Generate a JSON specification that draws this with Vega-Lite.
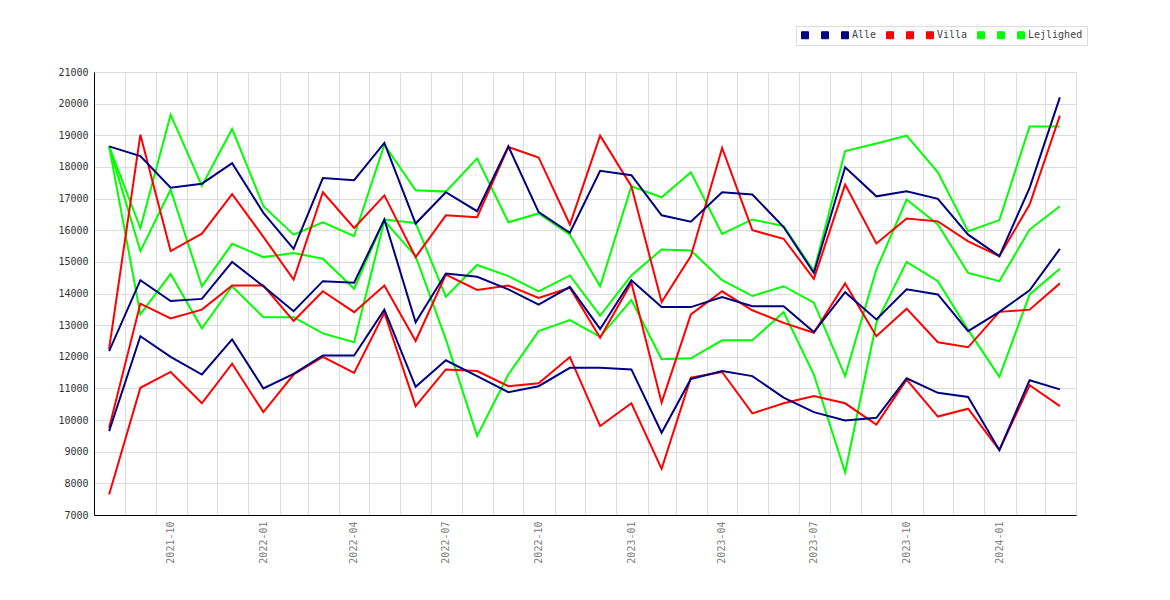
{
  "$schema": "https://vega.github.io/schema/vega-lite/v6.json",
  "width": 982,
  "height": 443,
  "autosize": {"type": "none"},
  "padding": {"left": 94, "top": 72, "right": 94, "bottom": 85},
  "background": "white",
  "view": {"stroke": null},
  "data": {
    "values": [
      {"m": "2021-08-16", "s": "Lejlighed_1", "v": 18650}, {"m": "2021-09-16", "s": "Lejlighed_1", "v": 13340}, {"m": "2021-10-16", "s": "Lejlighed_1", "v": 14620}, {"m": "2021-11-16", "s": "Lejlighed_1", "v": 12900},
      {"m": "2021-12-16", "s": "Lejlighed_1", "v": 14230}, {"m": "2022-01-16", "s": "Lejlighed_1", "v": 13250}, {"m": "2022-02-15", "s": "Lejlighed_1", "v": 13250}, {"m": "2022-03-16", "s": "Lejlighed_1", "v": 12740},
      {"m": "2022-04-16", "s": "Lejlighed_1", "v": 12460}, {"m": "2022-05-16", "s": "Lejlighed_1", "v": 16300}, {"m": "2022-06-16", "s": "Lejlighed_1", "v": 15180}, {"m": "2022-07-16", "s": "Lejlighed_1", "v": 12550},
      {"m": "2022-08-16", "s": "Lejlighed_1", "v": 9500}, {"m": "2022-09-16", "s": "Lejlighed_1", "v": 11440}, {"m": "2022-10-16", "s": "Lejlighed_1", "v": 12810}, {"m": "2022-11-16", "s": "Lejlighed_1", "v": 13160},
      {"m": "2022-12-16", "s": "Lejlighed_1", "v": 12630}, {"m": "2023-01-16", "s": "Lejlighed_1", "v": 13790}, {"m": "2023-02-15", "s": "Lejlighed_1", "v": 11920}, {"m": "2023-03-16", "s": "Lejlighed_1", "v": 11950},
      {"m": "2023-04-16", "s": "Lejlighed_1", "v": 12520}, {"m": "2023-05-16", "s": "Lejlighed_1", "v": 12520}, {"m": "2023-06-16", "s": "Lejlighed_1", "v": 13410}, {"m": "2023-07-16", "s": "Lejlighed_1", "v": 11440},
      {"m": "2023-08-16", "s": "Lejlighed_1", "v": 8350}, {"m": "2023-09-16", "s": "Lejlighed_1", "v": 13070}, {"m": "2023-10-16", "s": "Lejlighed_1", "v": 15000}, {"m": "2023-11-16", "s": "Lejlighed_1", "v": 14390},
      {"m": "2023-12-16", "s": "Lejlighed_1", "v": 12850}, {"m": "2024-01-16", "s": "Lejlighed_1", "v": 11370}, {"m": "2024-02-15", "s": "Lejlighed_1", "v": 13970}, {"m": "2024-03-16", "s": "Lejlighed_1", "v": 14780},

      {"m": "2021-08-16", "s": "Lejlighed_2", "v": 18650}, {"m": "2021-09-16", "s": "Lejlighed_2", "v": 15340}, {"m": "2021-10-16", "s": "Lejlighed_2", "v": 17280}, {"m": "2021-11-16", "s": "Lejlighed_2", "v": 14230},
      {"m": "2021-12-16", "s": "Lejlighed_2", "v": 15570}, {"m": "2022-01-16", "s": "Lejlighed_2", "v": 15150}, {"m": "2022-02-15", "s": "Lejlighed_2", "v": 15280}, {"m": "2022-03-16", "s": "Lejlighed_2", "v": 15100},
      {"m": "2022-04-16", "s": "Lejlighed_2", "v": 14150}, {"m": "2022-05-16", "s": "Lejlighed_2", "v": 16340}, {"m": "2022-06-16", "s": "Lejlighed_2", "v": 16230}, {"m": "2022-07-16", "s": "Lejlighed_2", "v": 13900},
      {"m": "2022-08-16", "s": "Lejlighed_2", "v": 14900}, {"m": "2022-09-16", "s": "Lejlighed_2", "v": 14550}, {"m": "2022-10-16", "s": "Lejlighed_2", "v": 14070}, {"m": "2022-11-16", "s": "Lejlighed_2", "v": 14570},
      {"m": "2022-12-16", "s": "Lejlighed_2", "v": 13300}, {"m": "2023-01-16", "s": "Lejlighed_2", "v": 14570}, {"m": "2023-02-15", "s": "Lejlighed_2", "v": 15390}, {"m": "2023-03-16", "s": "Lejlighed_2", "v": 15360},
      {"m": "2023-04-16", "s": "Lejlighed_2", "v": 14420}, {"m": "2023-05-16", "s": "Lejlighed_2", "v": 13920}, {"m": "2023-06-16", "s": "Lejlighed_2", "v": 14230}, {"m": "2023-07-16", "s": "Lejlighed_2", "v": 13710},
      {"m": "2023-08-16", "s": "Lejlighed_2", "v": 11390}, {"m": "2023-09-16", "s": "Lejlighed_2", "v": 14760}, {"m": "2023-10-16", "s": "Lejlighed_2", "v": 16970}, {"m": "2023-11-16", "s": "Lejlighed_2", "v": 16180},
      {"m": "2023-12-16", "s": "Lejlighed_2", "v": 14650}, {"m": "2024-01-16", "s": "Lejlighed_2", "v": 14390}, {"m": "2024-02-15", "s": "Lejlighed_2", "v": 16020}, {"m": "2024-03-16", "s": "Lejlighed_2", "v": 16760},

      {"m": "2021-08-16", "s": "Lejlighed", "v": 18650}, {"m": "2021-09-16", "s": "Lejlighed", "v": 16070}, {"m": "2021-10-16", "s": "Lejlighed", "v": 19650}, {"m": "2021-11-16", "s": "Lejlighed", "v": 17410},
      {"m": "2021-12-16", "s": "Lejlighed", "v": 19200}, {"m": "2022-01-16", "s": "Lejlighed", "v": 16760}, {"m": "2022-02-15", "s": "Lejlighed", "v": 15860}, {"m": "2022-03-16", "s": "Lejlighed", "v": 16250},
      {"m": "2022-04-16", "s": "Lejlighed", "v": 15810}, {"m": "2022-05-16", "s": "Lejlighed", "v": 18700}, {"m": "2022-06-16", "s": "Lejlighed", "v": 17260}, {"m": "2022-07-16", "s": "Lejlighed", "v": 17220},
      {"m": "2022-08-16", "s": "Lejlighed", "v": 18270}, {"m": "2022-09-16", "s": "Lejlighed", "v": 16250}, {"m": "2022-10-16", "s": "Lejlighed", "v": 16530}, {"m": "2022-11-16", "s": "Lejlighed", "v": 15860},
      {"m": "2022-12-16", "s": "Lejlighed", "v": 14230}, {"m": "2023-01-16", "s": "Lejlighed", "v": 17390}, {"m": "2023-02-15", "s": "Lejlighed", "v": 17040}, {"m": "2023-03-16", "s": "Lejlighed", "v": 17830},
      {"m": "2023-04-16", "s": "Lejlighed", "v": 15880}, {"m": "2023-05-16", "s": "Lejlighed", "v": 16340}, {"m": "2023-06-16", "s": "Lejlighed", "v": 16130}, {"m": "2023-07-16", "s": "Lejlighed", "v": 14710},
      {"m": "2023-08-16", "s": "Lejlighed", "v": 18500}, {"m": "2023-09-16", "s": "Lejlighed", "v": 18740}, {"m": "2023-10-16", "s": "Lejlighed", "v": 18990}, {"m": "2023-11-16", "s": "Lejlighed", "v": 17830},
      {"m": "2023-12-16", "s": "Lejlighed", "v": 15970}, {"m": "2024-01-16", "s": "Lejlighed", "v": 16320}, {"m": "2024-02-15", "s": "Lejlighed", "v": 19280}, {"m": "2024-03-16", "s": "Lejlighed", "v": 19280},

      {"m": "2021-08-16", "s": "Villa_1", "v": 7650}, {"m": "2021-09-16", "s": "Villa_1", "v": 11020}, {"m": "2021-10-16", "s": "Villa_1", "v": 11520}, {"m": "2021-11-16", "s": "Villa_1", "v": 10530},
      {"m": "2021-12-16", "s": "Villa_1", "v": 11780}, {"m": "2022-01-16", "s": "Villa_1", "v": 10250}, {"m": "2022-02-15", "s": "Villa_1", "v": 11440}, {"m": "2022-03-16", "s": "Villa_1", "v": 12000},
      {"m": "2022-04-16", "s": "Villa_1", "v": 11490}, {"m": "2022-05-16", "s": "Villa_1", "v": 13390}, {"m": "2022-06-16", "s": "Villa_1", "v": 10440}, {"m": "2022-07-16", "s": "Villa_1", "v": 11600},
      {"m": "2022-08-16", "s": "Villa_1", "v": 11550}, {"m": "2022-09-16", "s": "Villa_1", "v": 11070}, {"m": "2022-10-16", "s": "Villa_1", "v": 11160}, {"m": "2022-11-16", "s": "Villa_1", "v": 11990},
      {"m": "2022-12-16", "s": "Villa_1", "v": 9810}, {"m": "2023-01-16", "s": "Villa_1", "v": 10530}, {"m": "2023-02-15", "s": "Villa_1", "v": 8460}, {"m": "2023-03-16", "s": "Villa_1", "v": 11340},
      {"m": "2023-04-16", "s": "Villa_1", "v": 11520}, {"m": "2023-05-16", "s": "Villa_1", "v": 10210}, {"m": "2023-06-16", "s": "Villa_1", "v": 10530}, {"m": "2023-07-16", "s": "Villa_1", "v": 10760},
      {"m": "2023-08-16", "s": "Villa_1", "v": 10530}, {"m": "2023-09-16", "s": "Villa_1", "v": 9860}, {"m": "2023-10-16", "s": "Villa_1", "v": 11280}, {"m": "2023-11-16", "s": "Villa_1", "v": 10110},
      {"m": "2023-12-16", "s": "Villa_1", "v": 10360}, {"m": "2024-01-16", "s": "Villa_1", "v": 9050}, {"m": "2024-02-15", "s": "Villa_1", "v": 11100}, {"m": "2024-03-16", "s": "Villa_1", "v": 10440},

      {"m": "2021-08-16", "s": "Villa_2", "v": 9760}, {"m": "2021-09-16", "s": "Villa_2", "v": 13680}, {"m": "2021-10-16", "s": "Villa_2", "v": 13210}, {"m": "2021-11-16", "s": "Villa_2", "v": 13490},
      {"m": "2021-12-16", "s": "Villa_2", "v": 14250}, {"m": "2022-01-16", "s": "Villa_2", "v": 14250}, {"m": "2022-02-15", "s": "Villa_2", "v": 13130}, {"m": "2022-03-16", "s": "Villa_2", "v": 14070},
      {"m": "2022-04-16", "s": "Villa_2", "v": 13410}, {"m": "2022-05-16", "s": "Villa_2", "v": 14250}, {"m": "2022-06-16", "s": "Villa_2", "v": 12500}, {"m": "2022-07-16", "s": "Villa_2", "v": 14600},
      {"m": "2022-08-16", "s": "Villa_2", "v": 14110}, {"m": "2022-09-16", "s": "Villa_2", "v": 14250}, {"m": "2022-10-16", "s": "Villa_2", "v": 13860}, {"m": "2022-11-16", "s": "Villa_2", "v": 14180},
      {"m": "2022-12-16", "s": "Villa_2", "v": 12600}, {"m": "2023-01-16", "s": "Villa_2", "v": 14340}, {"m": "2023-02-15", "s": "Villa_2", "v": 10550}, {"m": "2023-03-16", "s": "Villa_2", "v": 13340},
      {"m": "2023-04-16", "s": "Villa_2", "v": 14070}, {"m": "2023-05-16", "s": "Villa_2", "v": 13470}, {"m": "2023-06-16", "s": "Villa_2", "v": 13070}, {"m": "2023-07-16", "s": "Villa_2", "v": 12760},
      {"m": "2023-08-16", "s": "Villa_2", "v": 14320}, {"m": "2023-09-16", "s": "Villa_2", "v": 12650}, {"m": "2023-10-16", "s": "Villa_2", "v": 13520}, {"m": "2023-11-16", "s": "Villa_2", "v": 12460},
      {"m": "2023-12-16", "s": "Villa_2", "v": 12300}, {"m": "2024-01-16", "s": "Villa_2", "v": 13420}, {"m": "2024-02-15", "s": "Villa_2", "v": 13490}, {"m": "2024-03-16", "s": "Villa_2", "v": 14320},

      {"m": "2021-08-16", "s": "Villa", "v": 12250}, {"m": "2021-09-16", "s": "Villa", "v": 19020}, {"m": "2021-10-16", "s": "Villa", "v": 15340}, {"m": "2021-11-16", "s": "Villa", "v": 15890},
      {"m": "2021-12-16", "s": "Villa", "v": 17140}, {"m": "2022-01-16", "s": "Villa", "v": 15790}, {"m": "2022-02-15", "s": "Villa", "v": 14440}, {"m": "2022-03-16", "s": "Villa", "v": 17200},
      {"m": "2022-04-16", "s": "Villa", "v": 16070}, {"m": "2022-05-16", "s": "Villa", "v": 17100}, {"m": "2022-06-16", "s": "Villa", "v": 15150}, {"m": "2022-07-16", "s": "Villa", "v": 16470},
      {"m": "2022-08-16", "s": "Villa", "v": 16410}, {"m": "2022-09-16", "s": "Villa", "v": 18630}, {"m": "2022-10-16", "s": "Villa", "v": 18300}, {"m": "2022-11-16", "s": "Villa", "v": 16180},
      {"m": "2022-12-16", "s": "Villa", "v": 18990}, {"m": "2023-01-16", "s": "Villa", "v": 17390}, {"m": "2023-02-15", "s": "Villa", "v": 13730}, {"m": "2023-03-16", "s": "Villa", "v": 15180},
      {"m": "2023-04-16", "s": "Villa", "v": 18600}, {"m": "2023-05-16", "s": "Villa", "v": 16000}, {"m": "2023-06-16", "s": "Villa", "v": 15730}, {"m": "2023-07-16", "s": "Villa", "v": 14460},
      {"m": "2023-08-16", "s": "Villa", "v": 17440}, {"m": "2023-09-16", "s": "Villa", "v": 15580}, {"m": "2023-10-16", "s": "Villa", "v": 16370}, {"m": "2023-11-16", "s": "Villa", "v": 16280},
      {"m": "2023-12-16", "s": "Villa", "v": 15650}, {"m": "2024-01-16", "s": "Villa", "v": 15180}, {"m": "2024-02-15", "s": "Villa", "v": 16810}, {"m": "2024-03-16", "s": "Villa", "v": 19620},

      {"m": "2021-08-16", "s": "Alle_1", "v": 9650}, {"m": "2021-09-16", "s": "Alle_1", "v": 12650}, {"m": "2021-10-16", "s": "Alle_1", "v": 12000}, {"m": "2021-11-16", "s": "Alle_1", "v": 11440},
      {"m": "2021-12-16", "s": "Alle_1", "v": 12550}, {"m": "2022-01-16", "s": "Alle_1", "v": 11000}, {"m": "2022-02-15", "s": "Alle_1", "v": 11460}, {"m": "2022-03-16", "s": "Alle_1", "v": 12040},
      {"m": "2022-04-16", "s": "Alle_1", "v": 12040}, {"m": "2022-05-16", "s": "Alle_1", "v": 13490}, {"m": "2022-06-16", "s": "Alle_1", "v": 11050}, {"m": "2022-07-16", "s": "Alle_1", "v": 11890},
      {"m": "2022-08-16", "s": "Alle_1", "v": 11390}, {"m": "2022-09-16", "s": "Alle_1", "v": 10880}, {"m": "2022-10-16", "s": "Alle_1", "v": 11070}, {"m": "2022-11-16", "s": "Alle_1", "v": 11650},
      {"m": "2022-12-16", "s": "Alle_1", "v": 11650}, {"m": "2023-01-16", "s": "Alle_1", "v": 11600}, {"m": "2023-02-15", "s": "Alle_1", "v": 9600}, {"m": "2023-03-16", "s": "Alle_1", "v": 11300},
      {"m": "2023-04-16", "s": "Alle_1", "v": 11550}, {"m": "2023-05-16", "s": "Alle_1", "v": 11390}, {"m": "2023-06-16", "s": "Alle_1", "v": 10710}, {"m": "2023-07-16", "s": "Alle_1", "v": 10250},
      {"m": "2023-08-16", "s": "Alle_1", "v": 9990}, {"m": "2023-09-16", "s": "Alle_1", "v": 10070}, {"m": "2023-10-16", "s": "Alle_1", "v": 11320}, {"m": "2023-11-16", "s": "Alle_1", "v": 10860},
      {"m": "2023-12-16", "s": "Alle_1", "v": 10730}, {"m": "2024-01-16", "s": "Alle_1", "v": 9050}, {"m": "2024-02-15", "s": "Alle_1", "v": 11260}, {"m": "2024-03-16", "s": "Alle_1", "v": 10970},

      {"m": "2021-08-16", "s": "Alle_2", "v": 12180}, {"m": "2021-09-16", "s": "Alle_2", "v": 14420}, {"m": "2021-10-16", "s": "Alle_2", "v": 13760}, {"m": "2021-11-16", "s": "Alle_2", "v": 13830},
      {"m": "2021-12-16", "s": "Alle_2", "v": 15000}, {"m": "2022-01-16", "s": "Alle_2", "v": 14230}, {"m": "2022-02-15", "s": "Alle_2", "v": 13440}, {"m": "2022-03-16", "s": "Alle_2", "v": 14390},
      {"m": "2022-04-16", "s": "Alle_2", "v": 14340}, {"m": "2022-05-16", "s": "Alle_2", "v": 16340}, {"m": "2022-06-16", "s": "Alle_2", "v": 13090}, {"m": "2022-07-16", "s": "Alle_2", "v": 14630},
      {"m": "2022-08-16", "s": "Alle_2", "v": 14530}, {"m": "2022-09-16", "s": "Alle_2", "v": 14130}, {"m": "2022-10-16", "s": "Alle_2", "v": 13650}, {"m": "2022-11-16", "s": "Alle_2", "v": 14210},
      {"m": "2022-12-16", "s": "Alle_2", "v": 12880}, {"m": "2023-01-16", "s": "Alle_2", "v": 14420}, {"m": "2023-02-15", "s": "Alle_2", "v": 13570}, {"m": "2023-03-16", "s": "Alle_2", "v": 13570},
      {"m": "2023-04-16", "s": "Alle_2", "v": 13890}, {"m": "2023-05-16", "s": "Alle_2", "v": 13600}, {"m": "2023-06-16", "s": "Alle_2", "v": 13600}, {"m": "2023-07-16", "s": "Alle_2", "v": 12780},
      {"m": "2023-08-16", "s": "Alle_2", "v": 14040}, {"m": "2023-09-16", "s": "Alle_2", "v": 13180}, {"m": "2023-10-16", "s": "Alle_2", "v": 14130}, {"m": "2023-11-16", "s": "Alle_2", "v": 13970},
      {"m": "2023-12-16", "s": "Alle_2", "v": 12810}, {"m": "2024-01-16", "s": "Alle_2", "v": 13420}, {"m": "2024-02-15", "s": "Alle_2", "v": 14100}, {"m": "2024-03-16", "s": "Alle_2", "v": 15410},

      {"m": "2021-08-16", "s": "Alle", "v": 18650}, {"m": "2021-09-16", "s": "Alle", "v": 18340}, {"m": "2021-10-16", "s": "Alle", "v": 17340}, {"m": "2021-11-16", "s": "Alle", "v": 17470},
      {"m": "2021-12-16", "s": "Alle", "v": 18120}, {"m": "2022-01-16", "s": "Alle", "v": 16550}, {"m": "2022-02-15", "s": "Alle", "v": 15410}, {"m": "2022-03-16", "s": "Alle", "v": 17650},
      {"m": "2022-04-16", "s": "Alle", "v": 17580}, {"m": "2022-05-16", "s": "Alle", "v": 18760}, {"m": "2022-06-16", "s": "Alle", "v": 16210}, {"m": "2022-07-16", "s": "Alle", "v": 17200},
      {"m": "2022-08-16", "s": "Alle", "v": 16600}, {"m": "2022-09-16", "s": "Alle", "v": 18650}, {"m": "2022-10-16", "s": "Alle", "v": 16570}, {"m": "2022-11-16", "s": "Alle", "v": 15920},
      {"m": "2022-12-16", "s": "Alle", "v": 17880}, {"m": "2023-01-16", "s": "Alle", "v": 17740}, {"m": "2023-02-15", "s": "Alle", "v": 16470}, {"m": "2023-03-16", "s": "Alle", "v": 16270},
      {"m": "2023-04-16", "s": "Alle", "v": 17200}, {"m": "2023-05-16", "s": "Alle", "v": 17130}, {"m": "2023-06-16", "s": "Alle", "v": 16100}, {"m": "2023-07-16", "s": "Alle", "v": 14650},
      {"m": "2023-08-16", "s": "Alle", "v": 17990}, {"m": "2023-09-16", "s": "Alle", "v": 17070}, {"m": "2023-10-16", "s": "Alle", "v": 17230}, {"m": "2023-11-16", "s": "Alle", "v": 16990},
      {"m": "2023-12-16", "s": "Alle", "v": 15860}, {"m": "2024-01-16", "s": "Alle", "v": 15180}, {"m": "2024-02-15", "s": "Alle", "v": 17340}, {"m": "2024-03-16", "s": "Alle", "v": 20200}
    ]
  },
  "mark": {"type": "line", "strokeWidth": 2},
  "encoding": {
    "x": {
      "field": "m",
      "type": "temporal",
      "scale": {"domain": [{"year": 2021, "month": 8, "date": 1}, {"year": 2024, "month": 4, "date": 1}]},
      "axis": {
        "title": null,
        "tickCount": {"interval": "month", "step": 1},
        "labelExpr": "month(datum.value) % 3 == 0 && time(datum.value) < time(datetime(2024, 2, 1)) ? timeFormat(datum.value, '%Y-%m') : ''",
        "labelAngle": -90,
        "labelAlign": "right",
        "labelBaseline": "middle",
        "labelOffset": 15,
        "labelPadding": 6,
        "labelOverlap": false,
        "labelBound": false,
        "labelFlush": false,
        "ticks": false,
        "grid": true,
        "gridColor": "#dcdcdc",
        "domainColor": "#000000",
        "labelFont": "DejaVu Sans Mono",
        "labelFontSize": 10,
        "labelColor": "#808080"
      }
    },
    "y": {
      "field": "v",
      "type": "quantitative",
      "scale": {"domain": [7000, 21000], "nice": false, "zero": false},
      "axis": {
        "title": null,
        "values": [7000, 8000, 9000, 10000, 11000, 12000, 13000, 14000, 15000, 16000, 17000, 18000, 19000, 20000, 21000],
        "format": "d",
        "ticks": false,
        "labelPadding": 6,
        "grid": true,
        "gridColor": "#dcdcdc",
        "domainColor": "#000000",
        "labelFont": "DejaVu Sans Mono",
        "labelFontSize": 10,
        "labelColor": "#333333"
      }
    },
    "color": {
      "field": "s",
      "type": "nominal",
      "scale": {
        "domain": ["Alle_1", "Alle_2", "Alle", "Villa_1", "Villa_2", "Villa", "Lejlighed_1", "Lejlighed_2", "Lejlighed"],
        "range": ["#000080", "#000080", "#000080", "#ff0000", "#ff0000", "#ff0000", "#00ff00", "#00ff00", "#00ff00"]
      },
      "legend": {
        "orient": "none",
        "legendX": 702,
        "legendY": -46,
        "direction": "horizontal",
        "title": null,
        "labelExpr": "indexof(datum.label, '_') >= 0 ? ' ' : datum.label",
        "symbolType": "square",
        "symbolSize": 49,
        "symbolStrokeWidth": 1,
        "labelFont": "DejaVu Sans Mono",
        "labelFontSize": 10,
        "labelColor": "#444444",
        "labelOffset": 2,
        "columnPadding": 7,
        "padding": 4,
        "strokeColor": "#dcdcdc",
        "encode": {
          "symbols": {
            "update": {
              "fill": {"scale": "color", "field": "value"},
              "fillOpacity": {"value": 1},
              "stroke": {"value": "#555555"}
            }
          }
        }
      }
    }
  }
}
